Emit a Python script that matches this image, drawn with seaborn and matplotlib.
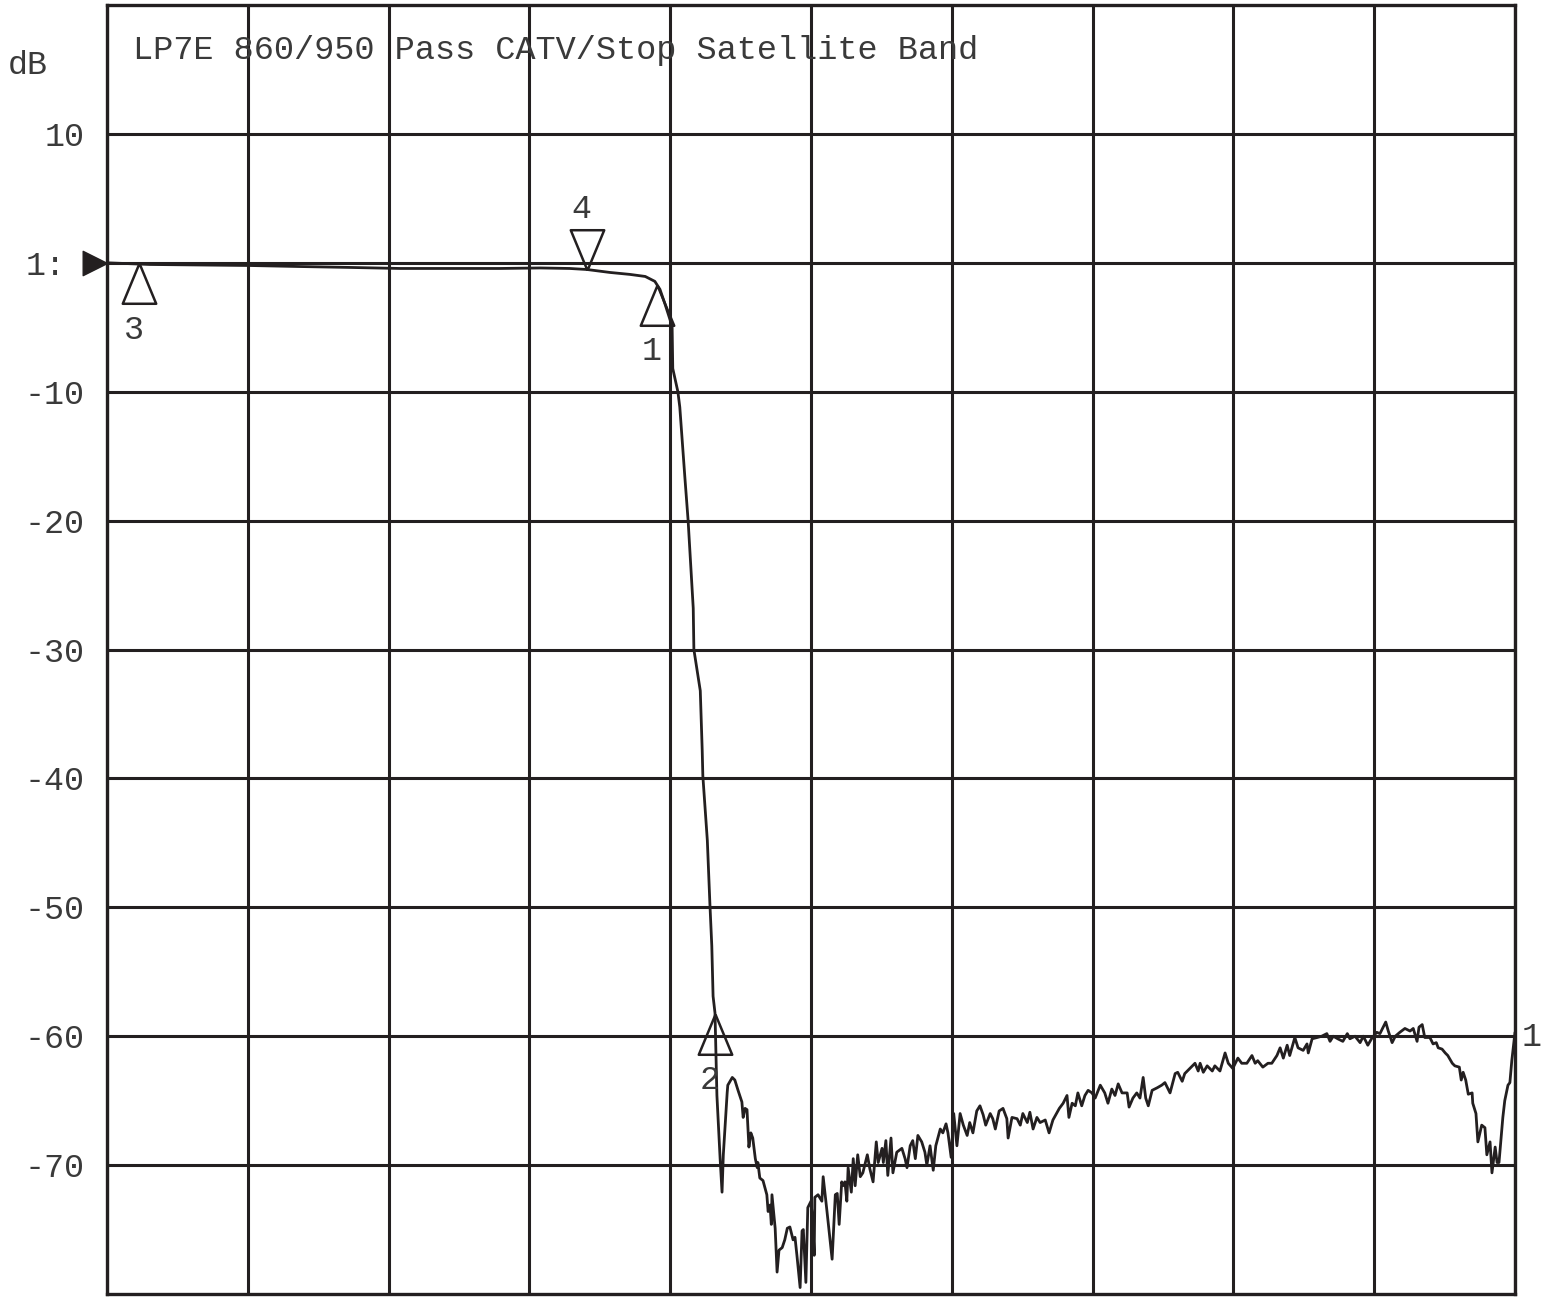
import numpy as np
import pandas as pd
import matplotlib
matplotlib.use("Agg")
import matplotlib.pyplot as plt
import seaborn as sns

# Trace readings (MHz, dB) - LP7E low-pass, 0..2200 MHz, 220 MHz/div
pass_freq = [0, 67, 145, 223, 302, 380, 458, 536, 614, 677, 723, 750, 786, 817, 841,
             856, 864, 872, 883]
pass_gain = [0.0, -0.13, -0.17, -0.21, -0.29, -0.36, -0.44, -0.44, -0.44, -0.40, -0.44,
             -0.52, -0.75, -0.90, -1.06, -1.44, -2.06, -3.22, -4.92]

skirt_freq = [884, 892, 895, 903, 908, 916, 917, 927, 930, 931, 938, 942, 945, 947, 950,
              953, 958, 961, 963, 969, 970, 977, 981, 986, 992, 994, 997, 1000, 1003,
              1006, 1009, 1013, 1016, 1017, 1020, 1025, 1031, 1033, 1036, 1038, 1039,
              1044, 1047, 1050, 1055, 1059, 1063, 1067, 1070, 1072, 1075, 1078, 1083,
              1086, 1088, 1092, 1095, 1100, 1103, 1105, 1106, 1111, 1117, 1119, 1125,
              1133, 1138, 1141, 1144, 1148, 1150, 1153, 1156, 1158, 1163, 1166, 1169,
              1173, 1177]
skirt_gain = [-8.2, -10.0, -11.2, -16.7, -20.0, -26.8, -30.0, -33.2, -37.8, -39.8, -44.8,
              -49.7, -53.0, -56.9, -58.2, -64.6, -69.5, -72.1, -69.2, -64.4, -63.8, -63.2,
              -63.4, -64.2, -65.1, -66.3, -65.6, -65.7, -68.6, -67.5, -67.9, -69.5, -70.2,
              -69.8, -71.0, -71.2, -72.3, -73.6, -73.1, -74.6, -72.3, -74.9, -78.3, -76.6,
              -76.4, -75.8, -74.9, -74.8, -75.4, -75.8, -75.6, -77.0, -79.5, -75.1, -75.0,
              -79.1, -73.3, -72.8, -74.6, -77.0, -72.5, -72.3, -72.8, -70.9, -73.6, -77.3,
              -72.3, -72.2, -74.6, -71.3, -71.6, -71.3, -72.8, -70.2, -72.1, -69.5, -71.6,
              -69.2, -70.9]

stop_freq = [1181, 1188, 1192, 1197, 1202, 1205, 1211, 1213, 1217, 1220, 1225, 1228, 1234,
             1242, 1247, 1250, 1255, 1259, 1263, 1267, 1273, 1278, 1281, 1286, 1291, 1295,
             1302, 1306, 1311, 1314, 1319, 1323, 1328, 1333, 1338, 1344, 1348, 1353, 1359,
             1364, 1369, 1373, 1380, 1384, 1388, 1394, 1400, 1406, 1408, 1414, 1422, 1427,
             1431, 1438, 1442, 1447, 1453, 1458, 1466, 1472, 1478, 1488, 1494, 1500, 1503,
             1508, 1513, 1517, 1523, 1528, 1533, 1539, 1544, 1552, 1559, 1564, 1570, 1575,
             1580, 1586, 1594, 1597, 1603, 1609, 1614, 1619, 1623, 1627, 1633, 1641, 1648,
             1653, 1661, 1669, 1673, 1680, 1684, 1692, 1700, 1705, 1708, 1713, 1719, 1727,
             1731, 1739, 1747, 1752, 1759, 1767, 1773, 1781, 1789, 1794, 1798, 1806, 1814,
             1820, 1828, 1833, 1838, 1844, 1848, 1856, 1861, 1869, 1875, 1877, 1883, 1891,
             1898, 1906, 1911, 1916, 1923, 1931, 1938, 1942, 1950, 1958, 1963, 1970, 1977,
             1984, 1989, 1994, 1998, 2002, 2008, 2013, 2020, 2028, 2036, 2041, 2047, 2050,
             2055, 2059, 2067, 2072, 2077, 2080, 2086, 2091, 2095, 2102, 2106, 2113, 2116,
             2119, 2123, 2127, 2133, 2134, 2139, 2142, 2148, 2153, 2156, 2161, 2164, 2169,
             2172, 2175, 2181, 2184, 2189, 2192, 2195, 2200]
stop_gain = [-70.6, -69.2, -70.3, -71.3, -68.2, -69.8, -68.7, -69.8, -68.1, -70.8, -67.9,
             -70.6, -69.0, -68.7, -69.5, -70.2, -68.5, -68.1, -69.5, -67.7, -68.2, -69.0,
             -70.0, -68.5, -70.4, -68.5, -67.2, -67.5, -66.8, -67.5, -69.4, -66.0, -68.5,
             -66.0, -66.9, -67.7, -66.7, -67.5, -65.8, -65.4, -66.1, -66.9, -66.0, -66.4,
             -67.2, -65.8, -65.6, -66.4, -67.9, -66.3, -66.4, -66.9, -66.0, -66.7, -65.9,
             -67.2, -66.3, -66.7, -66.5, -67.5, -66.5, -65.6, -65.2, -64.6, -66.3, -65.2,
             -65.4, -64.4, -65.4, -64.6, -64.2, -64.4, -64.8, -63.8, -64.4, -65.2, -64.1,
             -64.6, -63.7, -64.4, -64.4, -65.5, -64.8, -64.4, -64.8, -63.2, -64.8, -65.4,
             -64.2, -64.0, -63.8, -63.6, -64.4, -62.9, -62.8, -63.5, -62.9, -62.5, -62.1,
             -62.7, -62.1, -62.8, -62.3, -62.7, -62.3, -62.7, -61.3, -62.1, -62.5, -61.7,
             -62.1, -62.1, -61.5, -62.1, -61.9, -62.4, -62.1, -62.1, -61.5, -60.9, -61.7,
             -60.7, -61.5, -60.1, -60.9, -61.1, -60.6, -61.3, -60.2, -60.1, -60.0, -59.8,
             -60.4, -60.0, -60.2, -60.4, -59.8, -60.2, -60.0, -60.5, -60.0, -60.7, -60.1,
             -59.7, -59.8, -59.3, -58.9, -59.6, -60.5, -60.0, -59.7, -59.4, -59.6, -59.4,
             -60.4, -59.3, -59.1, -60.1, -60.1, -60.6, -60.5, -60.9, -61.0, -61.3, -61.5,
             -62.1, -62.3, -62.4, -63.4, -62.8, -63.4, -64.5, -64.4, -65.2, -66.0, -68.2,
             -66.9, -67.1, -69.2, -68.2, -70.6, -68.6, -69.8, -69.8, -66.3, -65.0, -63.8,
             -63.6, -61.9, -59.7]

# Markers
marker_ids = ["1", "2", "3", "4"]
marker_freq = [860, 950, 50, 750]
marker_gain = [-1.7, -58.3, -0.05, -0.52]
marker_down = [False, False, False, True]

title_text = "LP7E 860/950 Pass CATV/Stop Satellite Band"
ytick_vals = [10, 0, -10, -20, -30, -40, -50, -60, -70]
ytick_labels = ["10", "", "-10", "-20", "-30", "-40", "-50", "-60", "-70"]

ink = "#231f20"
txt = "#3a3a3a"
mono = ["Liberation Mono", "DejaVu Sans Mono"]

sns.set_style("white")
plt.rcParams["font.family"] = mono

trace = pd.DataFrame({
    "freq": pass_freq + skirt_freq + stop_freq,
    "gain": pass_gain + skirt_gain + stop_gain,
})

fig = plt.figure(figsize=(15.46, 12.97), dpi=100)
ax = fig.add_axes([107 / 1546, 3 / 1297, 1408 / 1546, 1289 / 1297])

sns.lineplot(data=trace, x="freq", y="gain", ax=ax, color=ink, linewidth=2.0,
             estimator=None, sort=False, zorder=3)

ax.set_xlim(0, 2200)
ax.set_ylim(-80, 20)
ax.set_xticks(np.arange(0, 2201, 220))
ax.set_xticklabels([])
ax.set_yticks(ytick_vals)
ax.set_yticklabels(ytick_labels)
ax.set_xlabel("")
ax.set_ylabel("")
ax.grid(True, color=ink, linewidth=2.2)
ax.tick_params(length=0, pad=16, labelsize=24, labelcolor=txt)
for s in ax.spines.values():
    s.set_visible(True)
    s.set_color(ink)
    s.set_linewidth(2.4)

# marker triangles: apex sits on the trace
up_tri = [(0, 0), (-0.415, -1), (0.415, -1), (0, 0)]
down_tri = [(0, 0), (-0.415, 1), (0.415, 1), (0, 0)]
for mid, f, g, down in zip(marker_ids, marker_freq, marker_gain, marker_down):
    ax.plot([f], [g], marker=down_tri if down else up_tri, markersize=58,
            markerfacecolor="none", markeredgecolor=ink, markeredgewidth=1.8,
            linestyle="none", zorder=4, clip_on=False)
    dy = 43 if down else -48
    ax.annotate(mid, (f, g), xytext=(-4, dy), textcoords="offset points",
                ha="center", va="center", fontsize=24, color=txt)

# reference level arrow (tip on the left axis) and channel labels
ref_arrow = [(0, 0), (-1, 0.5), (-1, -0.5), (0, 0)]
ax.plot([0], [0], marker=ref_arrow, markersize=35, color=ink, clip_on=False,
        transform=ax.get_yaxis_transform(), zorder=5)
ax.annotate("1:", (0, 0), xycoords=ax.get_yaxis_transform(), xytext=(-44, -3),
            textcoords="offset points", ha="center", va="center", fontsize=24,
            color=txt)
ax.annotate("1", (1, stop_gain[-1]), xycoords=ax.get_yaxis_transform(), xytext=(5, -4),
            textcoords="offset points", ha="left", va="center", fontsize=24,
            color=txt)

ax.text(0.0185, 0.965, title_text, transform=ax.transAxes, ha="left", va="center",
        fontsize=24.2, color=txt)
fig.text(8 / 1546, 1 - 65 / 1297, "dB", ha="left", va="center", fontsize=24,
         color=txt)

fig.savefig("out.png", dpi=100)
